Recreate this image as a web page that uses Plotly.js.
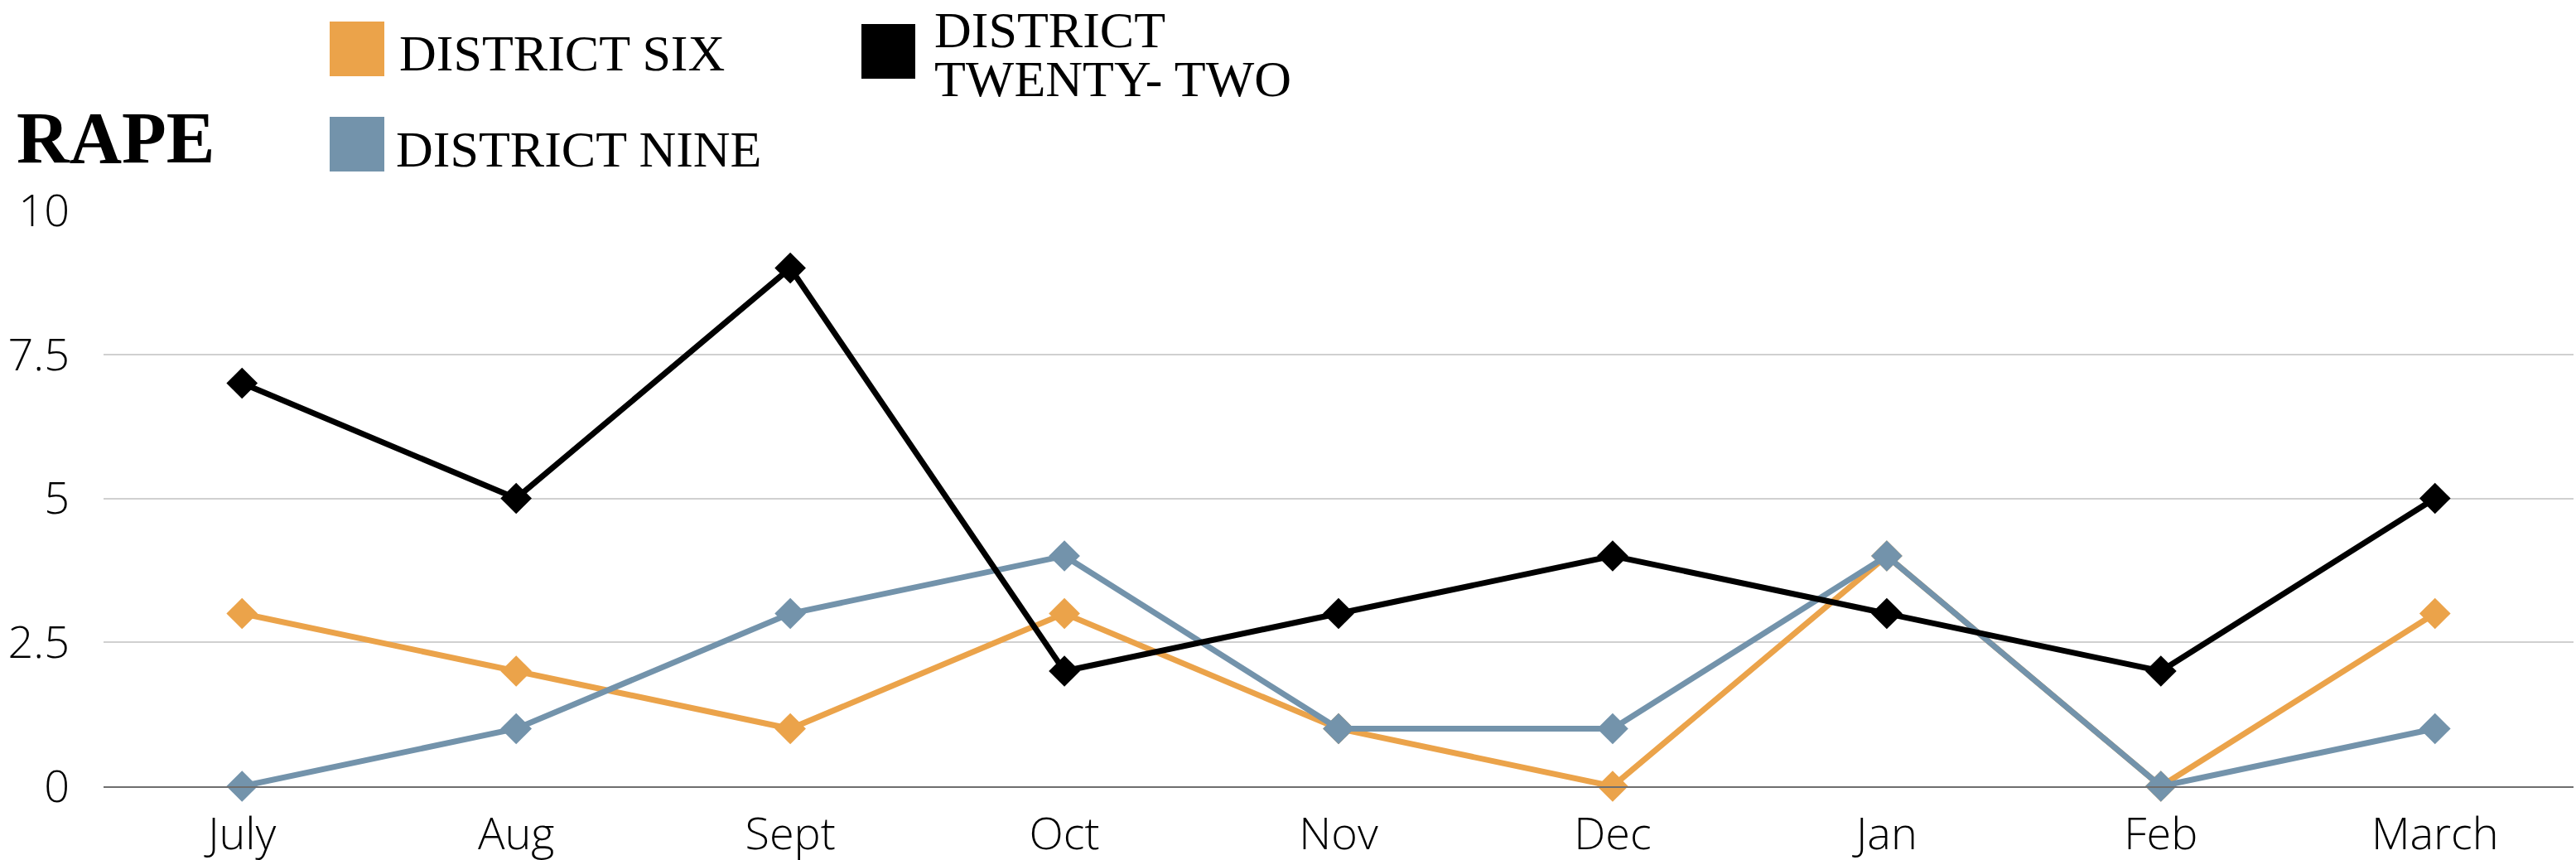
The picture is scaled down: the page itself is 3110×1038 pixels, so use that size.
<!DOCTYPE html>
<html>
<head>
<meta charset="utf-8">
<script src="https://cdn.plot.ly/plotly-3.0.1.min.js"></script>
<style>html,body{margin:0;padding:0;background:#fff;}#chart{width:3110px;height:1038px;}</style>
</head>
<body>
<div id="chart"></div>
<script>
// ---- data ----
const months = ["July", "Aug", "Sept", "Oct", "Nov", "Dec", "Jan", "Feb", "March"];
const districtSix = [3, 2, 1, 3, 1, 0, 4, 0, 3];
const districtNine = [0, 1, 3, 4, 1, 1, 4, 0, 1];
const districtTwentyTwo = [7, 5, 9, 2, 3, 4, 3, 2, 5];
const seriesNames = ["DISTRICT SIX", "DISTRICT NINE", "DISTRICT TWENTY- TWO"];
const yTickVals = [0, 2.5, 5, 7.5, 10];
const yTickText = ["0", "2.5", "5", "7.5", "10"];
const chartTitle = "RAPE";

// ---- styling ----
const W = 3110, H = 1038;
const M = {l: 125, r: 3, t: 254, b: 89};
const PW = W - M.l - M.r, PH = H - M.t - M.b;
const colors = ["#EBA34A", "#7393AB", "#000000"];
const px = x => (x - M.l) / PW;
const py = y => (H - M.b - y) / PH;

function mk(name, y, color) {
  return {
    type: "scatter", mode: "lines+markers", x: months, y: y, name: name,
    line: {color: color, width: 7},
    marker: {symbol: "diamond", size: 29, color: color, line: {width: 0}},
    showlegend: false, cliponaxis: false
  };
}
const traces = [
  mk(seriesNames[0], districtSix, colors[0]),
  mk(seriesNames[1], districtNine, colors[1]),
  mk(seriesNames[2], districtTwentyTwo, colors[2])
];

const legFont = {family: "Liberation Serif, Times New Roman, serif", size: 62, color: "#000"};
const shapes = [
  {type: "rect", xref: "paper", yref: "paper", x0: px(398), x1: px(464), y0: py(92), y1: py(26), fillcolor: colors[0], line: {width: 0}},
  {type: "rect", xref: "paper", yref: "paper", x0: px(398), x1: px(464), y0: py(207), y1: py(141), fillcolor: colors[1], line: {width: 0}},
  {type: "rect", xref: "paper", yref: "paper", x0: px(1040), x1: px(1105), y0: py(95), y1: py(29), fillcolor: colors[2], line: {width: 0}}
];
const twoLines = seriesNames[2].split(" ");
const annotations = [
  {text: seriesNames[0], xref: "paper", yref: "paper", x: px(480), y: py(64), xanchor: "left", yanchor: "middle", showarrow: false, font: legFont},
  {text: seriesNames[1], xref: "paper", yref: "paper", x: px(476), y: py(180), xanchor: "left", yanchor: "middle", showarrow: false, font: legFont},
  {text: twoLines[0], xref: "paper", yref: "paper", x: px(1126), y: py(36), xanchor: "left", yanchor: "middle", showarrow: false, font: legFont},
  {text: twoLines.slice(1).join(" "), xref: "paper", yref: "paper", x: px(1126), y: py(95), xanchor: "left", yanchor: "middle", showarrow: false, font: legFont}
];

const tickFont = {family: "Open Sans, sans-serif", size: 54, color: "#000", weight: 300};
const layout = {
  width: W, height: H,
  margin: M,
  paper_bgcolor: "#fff", plot_bgcolor: "#fff",
  title: {text: chartTitle, x: 20 / W, xanchor: "left", xref: "container", y: 1 - 165 / H, yanchor: "middle", yref: "container",
          font: {family: "Liberation Serif, Times New Roman, serif", size: 88, color: "#000", weight: 700}},
  xaxis: {type: "category", showgrid: false, showline: true, linecolor: "#6e6e6e", linewidth: 2,
          ticks: "", tickfont: tickFont, ticklabelstandoff: 9, zeroline: false, fixedrange: true},
  yaxis: {range: [0, 10], tickvals: yTickVals, ticktext: yTickText, showgrid: true, gridcolor: "#d0d0d0", gridwidth: 2,
          zeroline: false, showline: false, ticks: "", tickfont: tickFont, ticklabelstandoff: 40, fixedrange: true},
  shapes: shapes,
  annotations: annotations,
  showlegend: false
};
Plotly.newPlot("chart", traces, layout, {staticPlot: true, displayModeBar: false});
</script>
</body>
</html>
